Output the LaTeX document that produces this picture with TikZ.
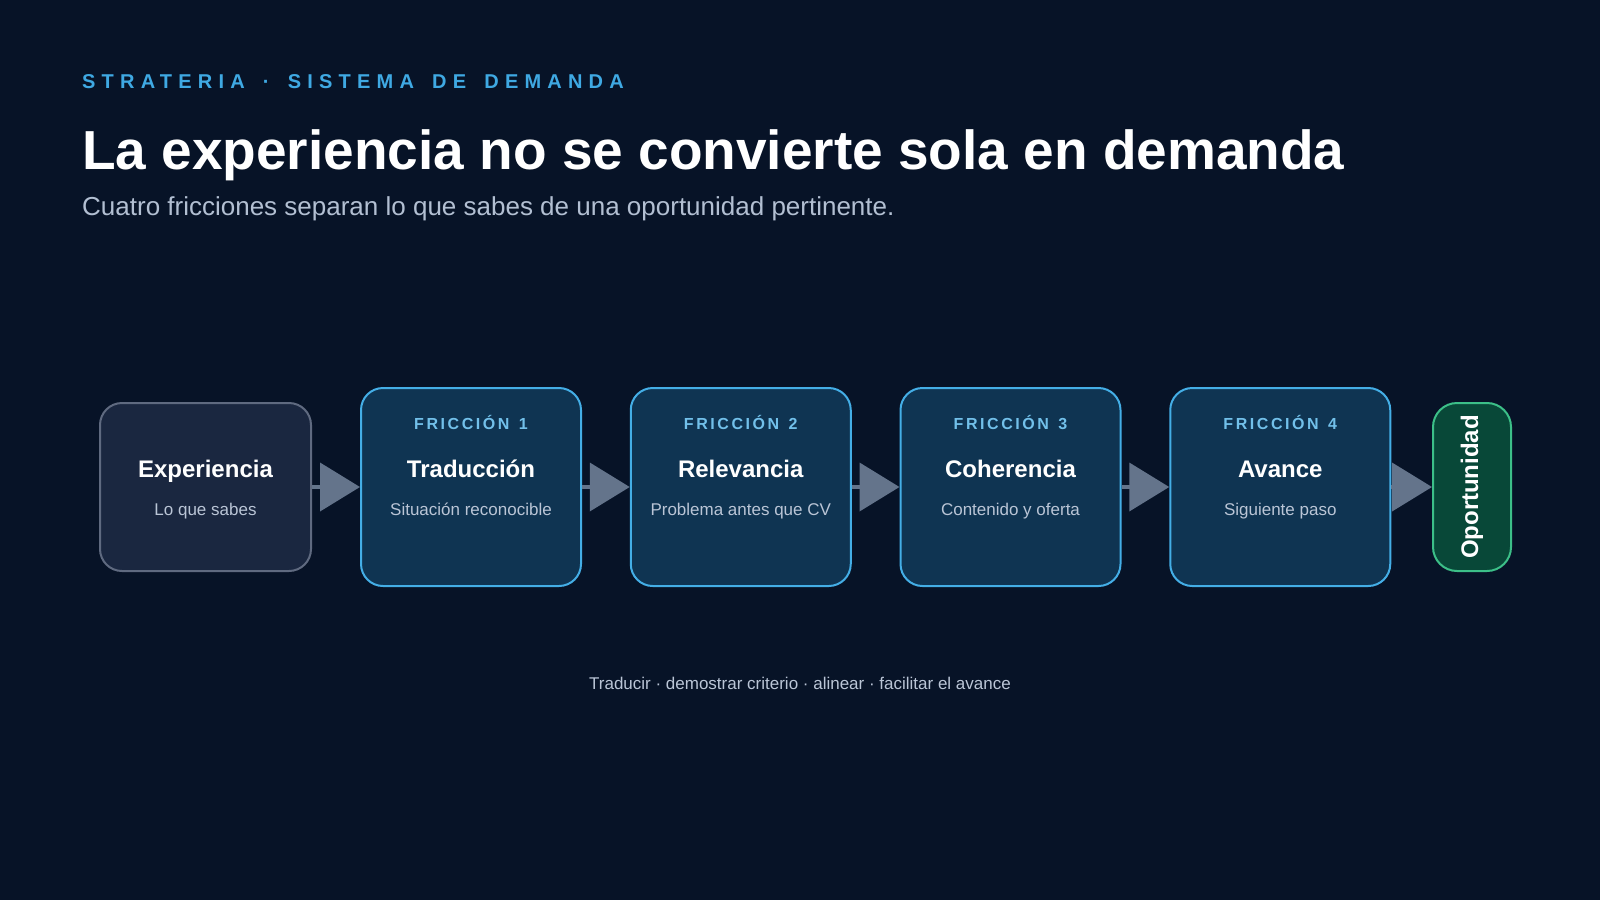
\documentclass[tikz,border=0pt]{standalone}
\usepackage{fontspec}
\setmainfont{Liberation Sans}
\newfontfamily\espaciado[LetterSpace=31, WordSpace=1.55]{Liberation Sans}
\newfontfamily\espaciadoc[LetterSpace=16, WordSpace=1.35]{Liberation Sans}
\usetikzlibrary{arrows.meta}
\definecolor{fondo}{HTML}{071327}
\definecolor{marcaazul}{HTML}{3FA9E3}
\definecolor{gristexto}{HTML}{B2BFD2}
\definecolor{expfondo}{HTML}{1A2740}
\definecolor{expborde}{HTML}{5F6A80}
\definecolor{frfondo}{HTML}{0F3452}
\definecolor{frborde}{HTML}{44AEE6}
\definecolor{frtag}{HTML}{72C0EA}
\definecolor{opfondo}{HTML}{084838}
\definecolor{opborde}{HTML}{3CBF88}
\definecolor{flechagris}{HTML}{64748B}
\tikzset{
  caja/.style={draw, line width=2pt, rounded corners=22pt},
  friccion/.style={caja, fill=frfondo, draw=frborde, minimum width=220pt, minimum height=198pt},
  etiqueta/.style={inner sep=0, anchor=base, text=frtag, font=\espaciadoc\bfseries\fontsize{16}{18}\selectfont},
  titulo/.style={inner sep=0, anchor=base, text=white, font=\bfseries\fontsize{24}{28}\selectfont},
  detalle/.style={inner sep=0, anchor=base, text=gristexto!90!white, font=\fontsize{17}{20}\selectfont},
  flecha/.style={draw=flechagris, line width=4pt, -{Triangle[length=40pt,width=48pt]}}
}
\begin{document}
\begin{tikzpicture}[x=1pt, y=-1pt]
  \fill [fondo] (0,0) rectangle (1600,900);
  \useasboundingbox (0,0) rectangle (1600,900);
  \node [inner sep=0, anchor=base west, text=marcaazul, font=\espaciado\bfseries\fontsize{20}{24}\selectfont] (marca) at (82,88) {STRATERIA · SISTEMA DE DEMANDA};
  \node [inner sep=0, anchor=base west, text=white, font=\bfseries\fontsize{55}{64}\selectfont] (cabecera) at (82,169) {La experiencia no se convierte sola en demanda};
  \node [inner sep=0, anchor=base west, text=gristexto, font=\fontsize{26}{30}\selectfont] (bajada) at (82,215) {Cuatro fricciones separan lo que sabes de una oportunidad pertinente.};
  \node [caja, fill=expfondo, draw=expborde, minimum width=211pt, minimum height=168pt] (exp) at (205.5,487) {};
  \node [titulo] (texp) at ([yshift=10pt]exp.center) {Experiencia};
  \node [detalle] (dexp) at ([yshift=-28pt]exp.center) {Lo que sabes};
  \foreach \i/\x/\nombre/\texto in {1/471/Traducción/Situación reconocible, 2/740.75/Relevancia/Problema antes que CV, 3/1010.5/Coherencia/Contenido y oferta, 4/1280.25/Avance/Siguiente paso} {
    \node [friccion] (f\i) at (\x,487) {};
    \node [etiqueta] (e\i) at ([yshift=58pt]f\i.center) {FRICCIÓN \i};
    \node [titulo] (t\i) at ([yshift=10pt]f\i.center) {\nombre};
    \node [detalle] (d\i) at ([yshift=-28pt]f\i.center) {\texto};
  }
  \node [caja, fill=opfondo, draw=opborde, rounded corners=24pt, minimum width=78pt, minimum height=168pt] (op) at (1472,487) {};
  \node [inner sep=0, rotate=90, text=white, font=\bfseries\fontsize{24}{28}\selectfont] (top) at (op.center) {Oportunidad};
  \draw [flecha] (exp) -- (f1);
  \foreach \a/\b in {f1/f2, f2/f3, f3/f4, f4/op}
    \draw [flecha] (\a) -- (\b);
  \node [inner sep=0, anchor=base, text=gristexto!90!white, font=\fontsize{17}{20}\selectfont] (pie) at (800,689) {Traducir · demostrar criterio · alinear · facilitar el avance};
\end{tikzpicture}
\end{document}
